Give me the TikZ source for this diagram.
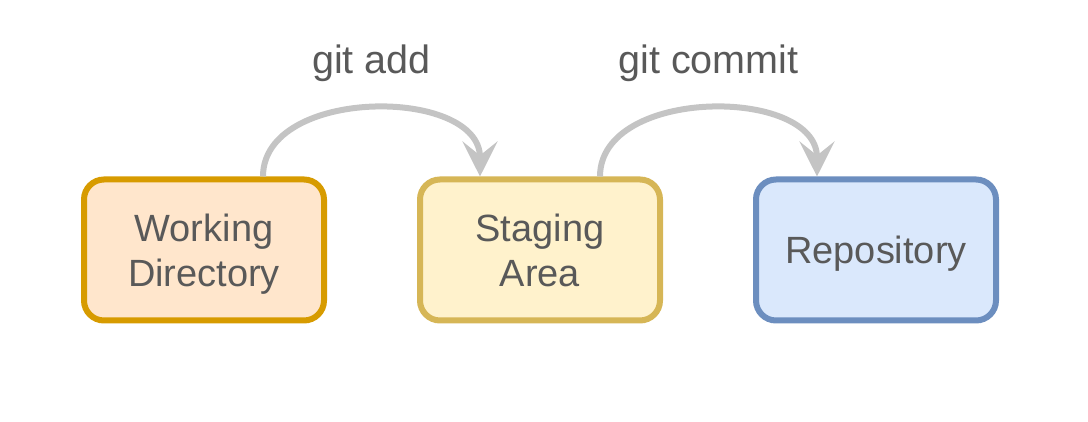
\documentclass[tikz,border=0pt]{standalone}
\usepackage{fontspec}
\setmainfont{Liberation Sans}
\usetikzlibrary{arrows.meta}

\definecolor{wdfill}{HTML}{FFE6CC}
\definecolor{wdline}{HTML}{D79B00}
\definecolor{safill}{HTML}{FFF2CC}
\definecolor{saline}{HTML}{D6B656}
\definecolor{repofill}{HTML}{DAE8FC}
\definecolor{repoline}{HTML}{6C8EBF}
\definecolor{txtgray}{HTML}{595959}
\definecolor{arrowgray}{HTML}{C4C4C4}

\begin{document}
\begin{tikzpicture}[
    box/.style={draw, line width=0.12cm, rounded corners=0.4cm,
      minimum width=4.8cm, minimum height=2.82cm, align=center,
      text depth=0pt, text=txtgray, font=\fontsize{21.6}{25.6}\selectfont},
    flow/.style={draw=arrowgray, line width=0.12cm,
      -{Stealth[length=0.7cm, width=0.7cm, inset=0.28cm]}},
    lbl/.style={text=txtgray, font=\fontsize{22.5}{27}\selectfont}
  ]
    \useasboundingbox (0,0) rectangle (21.76,8.44);

    % Areas of git
    \node[box, fill=wdfill, draw=wdline] (wd) at (4.08,3.44) {Working\\Directory};
    \node[box, fill=safill, draw=saline] (sa) at (10.8,3.44) {Staging\\Area};
    \node[box, fill=repofill, draw=repoline] (repo) at (17.52,3.44) {Repository};

    % Commands between them
    \draw[flow] ([xshift=1.18cm]wd.north) .. controls +(0,1.8) and +(0,1.8) .. ([xshift=-1.2cm]sa.north)
      node[lbl, midway, anchor=base, yshift=0.7cm] (add) {git add};
    \draw[flow] ([xshift=1.2cm]sa.north) .. controls +(0,1.8) and +(0,1.8) .. ([xshift=-1.18cm]repo.north)
      node[lbl, midway, anchor=base, yshift=0.7cm] (commit) {git commit};
  \end{tikzpicture}
\end{document}
